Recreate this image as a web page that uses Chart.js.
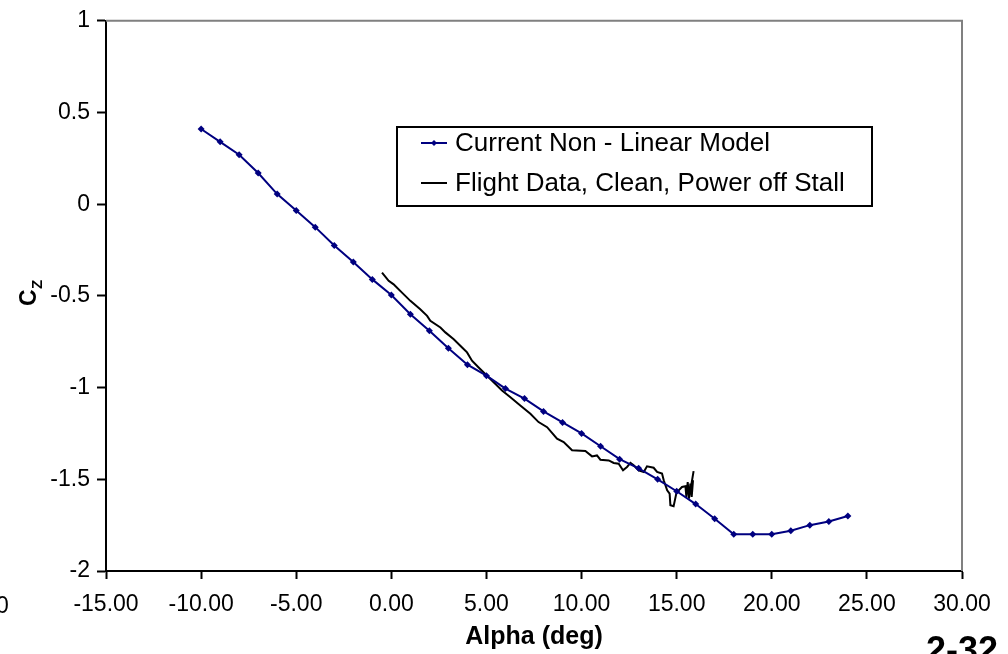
<!DOCTYPE html>
<html>
<head>
<meta charset="utf-8">
<script src="https://cdn.jsdelivr.net/npm/chart.js@4"></script>
<style>
	html, body { margin: 0; padding: 0; background: #fff; }
	#wrap { width: 1008px; height: 654px; position: relative; }
</style>
</head>
<body>
<div id="wrap"><canvas id="czChart"></canvas></div>
<script>
// Model: alpha (deg) vs Cz
const modelAlpha = [-10, -9, -8, -7, -6, -5, -4, -3, -2, -1, 0, 1, 2, 3, 4, 5, 6, 7, 8, 9, 10, 11, 12, 13, 14, 15, 16, 17, 18, 19, 20, 21, 22, 23, 24];
const modelCz = [0.41, 0.34, 0.27, 0.17, 0.055, -0.035, -0.125, -0.225, -0.315, -0.41, -0.495, -0.6, -0.69, -0.785, -0.875, -0.935, -1.005, -1.06, -1.13, -1.19, -1.25, -1.32, -1.39, -1.44, -1.5, -1.565, -1.635, -1.715, -1.8, -1.8, -1.8, -1.78, -1.75, -1.73, -1.7];

// Flight data (clean, power off stall)
const flightAlpha = [-0.49, -0.14, 0.12, 0.56, 1.0, 1.52, 1.88, 2.05, 2.58, 2.84, 3.28, 3.72, 3.98, 4.24, 4.59, 5.03, 5.38, 5.82, 6.26, 6.78, 7.31, 7.74, 8.19, 8.71, 9.06, 9.5, 10.2, 10.55, 10.81, 10.99, 11.43, 11.69, 11.95, 12.18, 12.39, 12.57, 12.74, 13.0, 13.27, 13.44, 13.79, 13.97, 14.23, 14.32, 14.5, 14.63, 14.67, 14.84, 14.98, 15.11, 15.28, 15.46, 15.51, 15.58, 15.65, 15.72, 15.79, 15.86, 15.72, 15.89];
const flightCz = [-0.373, -0.418, -0.437, -0.482, -0.527, -0.573, -0.609, -0.636, -0.672, -0.699, -0.736, -0.781, -0.808, -0.853, -0.89, -0.935, -0.971, -1.016, -1.053, -1.098, -1.143, -1.188, -1.216, -1.279, -1.297, -1.342, -1.346, -1.375, -1.37, -1.393, -1.397, -1.411, -1.415, -1.451, -1.433, -1.411, -1.424, -1.451, -1.46, -1.429, -1.437, -1.46, -1.469, -1.505, -1.56, -1.578, -1.641, -1.647, -1.578, -1.56, -1.542, -1.538, -1.596, -1.515, -1.605, -1.523, -1.596, -1.505, -1.56, -1.455];

const seriesLabels = ['Current Non - Linear Model', 'Flight Data, Clean, Power off Stall'];
const xTicks = [-15, -10, -5, 0, 5, 10, 15, 20, 25, 30];
const yTicks = [1, 0.5, 0, -0.5, -1, -1.5, -2];

const FONT = '"Liberation Sans", Arial, sans-serif';
const navy = '#000080';

const toPoints = (xs, ys) => xs.map((x, i) => ({ x: x, y: ys[i] }));

// frame, legend box and loose texts
const extras = {
	id: 'extras',
	afterDraw(chart) {
		const ctx = chart.ctx;
		const a = chart.chartArea;
		ctx.save();
		// gray top / right frame
		ctx.strokeStyle = '#808080';
		ctx.lineWidth = 2;
		ctx.beginPath();
		ctx.moveTo(a.left, a.top);
		ctx.lineTo(a.right, a.top);
		ctx.lineTo(a.right, a.bottom);
		ctx.stroke();

		// legend box
		ctx.strokeStyle = '#000';
		ctx.lineWidth = 2;
		ctx.strokeRect(397, 127, 475, 79);
		ctx.font = '26px ' + FONT;
		ctx.textBaseline = 'middle';
		ctx.fillStyle = '#000';
		const rows = [143, 183];
		chart.data.datasets.forEach((ds, i) => {
			const y = rows[i];
			ctx.strokeStyle = ds.borderColor;
			ctx.lineWidth = 2;
			ctx.beginPath();
			ctx.moveTo(421, y);
			ctx.lineTo(447, y);
			ctx.stroke();
			if (ds.pointRadius > 0) {
				ctx.fillStyle = ds.borderColor;
				ctx.beginPath();
				ctx.moveTo(434, y - 3);
				ctx.lineTo(437, y);
				ctx.lineTo(434, y + 3);
				ctx.lineTo(431, y);
				ctx.closePath();
				ctx.fill();
			}
			ctx.fillStyle = '#000';
			ctx.fillText(ds.label, 455, y + 1);
		});

		// y axis title: C with subscript Z
		ctx.translate(30, 296);
		ctx.rotate(-Math.PI / 2);
		ctx.textBaseline = 'alphabetic';
		ctx.textAlign = 'left';
		ctx.font = 'bold 23px ' + FONT;
		ctx.fillText('C', -10, 6);
		ctx.font = 'bold 15px ' + FONT;
		ctx.fillText('Z', 7, 12);
		ctx.restore();

		// stray texts from the page
		ctx.save();
		ctx.fillStyle = '#000';
		ctx.textBaseline = 'middle';
		ctx.font = '23px ' + FONT;
		ctx.fillText('0', -4, 607);
		ctx.font = 'bold 36px ' + FONT;
		ctx.textBaseline = 'top';
		ctx.fillText('2-32', 926, 634);
		ctx.restore();
	}
};

const ctx = document.getElementById('czChart');
new Chart(ctx, {
	type: 'scatter',
	data: {
		datasets: [{
			label: seriesLabels[0],
			data: toPoints(modelAlpha, modelCz),
			showLine: true,
			borderColor: navy,
			backgroundColor: navy,
			borderWidth: 2,
			pointStyle: 'rectRot',
			pointRadius: 3.5,
			pointBorderWidth: 0,
			tension: 0
		}, {
			label: seriesLabels[1],
			data: toPoints(flightAlpha, flightCz),
			showLine: true,
			borderColor: '#000',
			backgroundColor: '#000',
			borderWidth: 2,
			pointRadius: 0,
			tension: 0
		}]
	},
	options: {
		responsive: true,
		maintainAspectRatio: false,
		animation: false,
		layout: { padding: { top: 19, right: 46, left: 0, bottom: 0 } },
		plugins: {
			legend: { display: false },
			tooltip: { enabled: false }
		},
		scales: {
			x: {
				type: 'linear',
				min: -15,
				max: 30,
				afterFit: (s) => { s.height = 83; },
				afterBuildTicks: (s) => { s.ticks = xTicks.map(v => ({ value: v })); },
				grid: { drawOnChartArea: false, tickLength: 8, tickColor: '#000', tickWidth: 2 },
				border: { color: '#000', width: 2 },
				ticks: {
					color: '#000',
					font: { family: FONT, size: 23 },
					padding: 12,
					maxRotation: 0,
					callback: (v) => Number(v).toFixed(2)
				},
				title: {
					display: true,
					text: 'Alpha (deg)',
					color: '#000',
					font: { family: FONT, size: 25, weight: 'bold' },
					padding: { top: 0, bottom: 2 }
				}
			},
			y: {
				type: 'linear',
				min: -2,
				max: 1,
				afterFit: (s) => { s.width = 106; },
				afterBuildTicks: (s) => { s.ticks = yTicks.map(v => ({ value: v })); },
				grid: { drawOnChartArea: false, tickLength: 9, tickColor: '#000', tickWidth: 2 },
				border: { color: '#000', width: 2 },
				ticks: {
					color: '#000',
					font: { family: FONT, size: 23 },
					padding: 7,
					callback: (v) => String(v)
				}
			}
		}
	},
	plugins: [extras]
});
</script>
</body>
</html>
